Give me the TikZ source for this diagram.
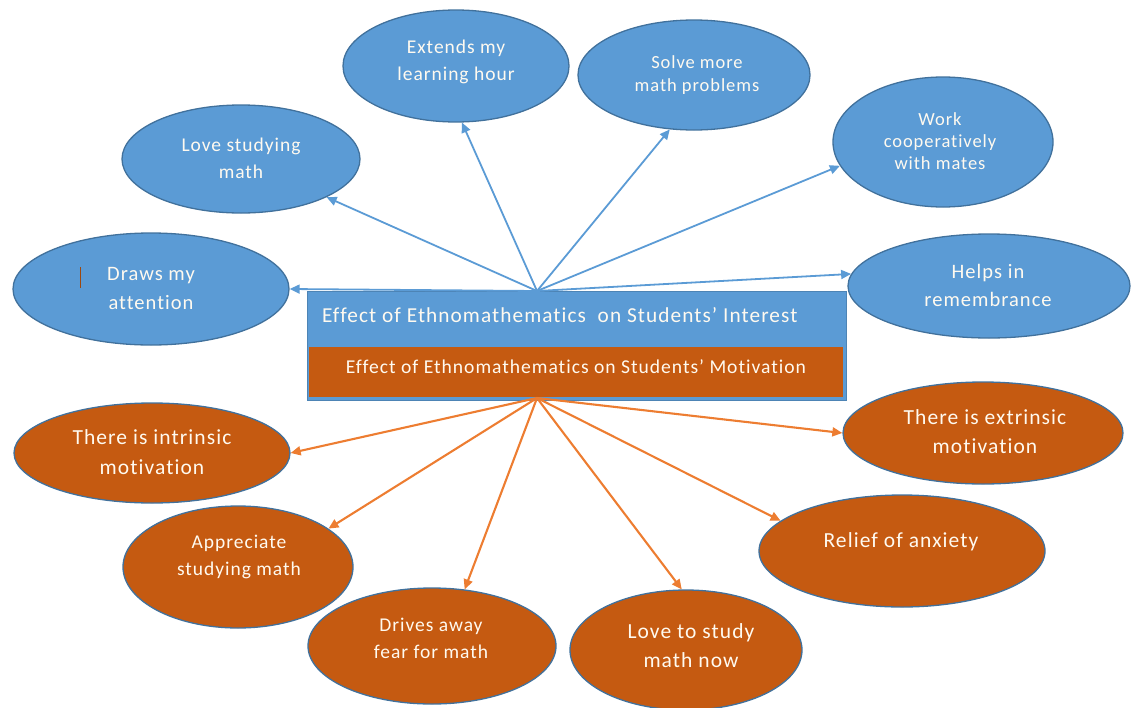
\documentclass[tikz,border=0pt]{standalone}
\usepackage{fontspec}
\setmainfont{Carlito}[LetterSpace=5,Ligatures=NoCommon]
\usetikzlibrary{shapes.geometric,arrows.meta}
\definecolor{ellblue}{HTML}{5B9BD5}
\definecolor{edgeblue}{HTML}{41719C}
\definecolor{ellorange}{HTML}{C55A11}
\definecolor{arrorange}{HTML}{ED7D31}
\definecolor{lighttext}{RGB}{255,250,240}
\begin{document}
\begin{tikzpicture}[x=1pt,y=-1pt,
  bubble/.style={ellipse,draw=edgeblue,line width=1.3pt,inner sep=0pt},
  bluebubble/.style={bubble,fill=ellblue},
  orangebubble/.style={bubble,fill=ellorange},
  ellsize/.style 2 args={minimum width=#1pt,minimum height=#2pt},
  txt/.style 2 args={text=lighttext,align=center,inner sep=0pt,font=\fontsize{#1}{#2}\selectfont},
  bluearrow/.style={draw=ellblue,line width=1.8pt,-{Triangle[length=10pt,width=9pt]}},
  orangearrow/.style={draw=arrorange,line width=2.1pt,-{Triangle[length=10pt,width=9pt]}},
]
\useasboundingbox (0,0) rectangle (1135,707);

% central two-band box
\node[rectangle,fill=ellblue,draw=ellblue!85!black,line width=0.8pt,inner sep=0pt,
      minimum width=539pt,minimum height=109pt,anchor=north west] (box) at (307,291) {};
\node[rectangle,fill=ellorange,inner sep=0pt,
      minimum width=534pt,minimum height=50pt,anchor=north west] (band) at (309,347) {};
\node[anchor=west,txt={21.3}{24}] (interest) at (322,315)
  {Effect of Ethnomathematics\ \ on Students’ Interest};
\node[txt={19.6}{22}] (motivation) at (576,367)
  {Effect of Ethnomathematics on Students’ Motivation};
\coordinate (up) at (537,291);
\coordinate (down) at (537,398);

% interest bubbles (blue)
\node[bluebubble,ellsize={276}{112}] (attn) at (151,289) {};
\node[txt={20.5}{29}] (attnlabel) at (151,288) {Draws my\\attention};
\draw[draw=ellorange!80!black,line width=0.8pt] (80,267) -- (80,288);
\node[bluebubble,ellsize={238}{108}] (love) at (241,159) {};
\node[txt={19.5}{27}] (lovelabel) at (241,158) {Love studying\\math};
\node[bluebubble,ellsize={226}{112}] (ext) at (456,66) {};
\node[txt={19.5}{27}] (extlabel) at (456,61.5) {Extends my\\learning hour};
\node[bluebubble,ellsize={232}{110}] (solve) at (694,75) {};
\node[txt={18.5}{23}] (solvelabel) at (697,75) {Solve more\\math problems};
\node[bluebubble,ellsize={220}{130}] (work) at (943,142) {};
\node[txt={18.5}{22}] (worklabel) at (940,141) {Work\\cooperatively\\with mates};
\node[bluebubble,ellsize={282}{104}] (helps) at (989,286) {};
\node[txt={20.5}{28}] (helpslabel) at (988,285) {Helps in\\remembrance};

% motivation bubbles (orange)
\node[orangebubble,ellsize={276}{100}] (intr) at (152,453) {};
\node[txt={21.5}{30}] (intrlabel) at (152,452.5) {There is intrinsic\\motivation};
\node[orangebubble,ellsize={230}{122}] (appr) at (238,567) {};
\node[txt={19.5}{27}] (apprlabel) at (239,557) {Appreciate\\studying math};
\node[orangebubble,ellsize={248}{116}] (drive) at (432,646) {};
\node[txt={19.5}{27}] (drivelabel) at (431,638.5) {Drives away\\fear for math};
\node[orangebubble,ellsize={232}{120}] (lovenow) at (686,650) {};
\node[txt={21.5}{29}] (lovenowlabel) at (691,646) {Love to study\\math now};
\node[orangebubble,ellsize={286}{112}] (relief) at (902,551) {};
\node[txt={21.5}{29}] (relieflabel) at (901,542) {Relief of anxiety};
\node[orangebubble,ellsize={280}{102}] (extr) at (983,433) {};
\node[txt={21.5}{29}] (extrlabel) at (985,432) {There is extrinsic\\motivation};

% connectors from the box
\draw[bluearrow] (up) -- (attn.east);
\draw[bluearrow] (up) -- (love);
\draw[bluearrow] (up) -- (ext.276);
\draw[bluearrow] (up) -- (solve.246);
\draw[bluearrow] (up) -- (work.193);
\draw[bluearrow] (up) -- (helps.175);

\draw[orangearrow] (down) -- (intr.0);
\draw[orangearrow] (down) -- (appr.23);
\draw[orangearrow] (down) -- (drive.60);
\draw[orangearrow] (down) -- (lovenow.94);
\draw[orangearrow] (down) -- (relief.166);
\draw[orangearrow] (down) -- (extr.180);
\end{tikzpicture}
\end{document}
